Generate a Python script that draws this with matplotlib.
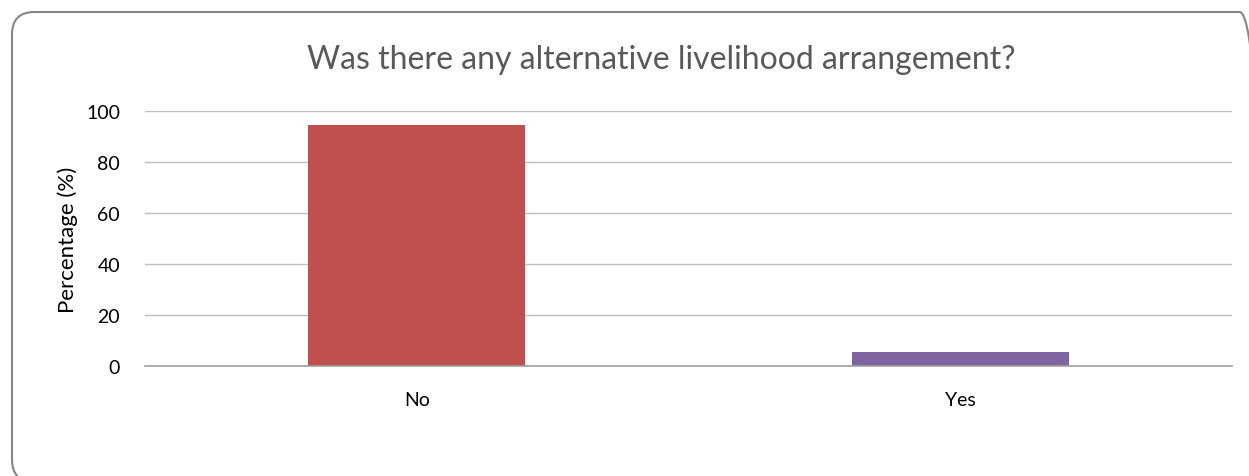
import matplotlib
matplotlib.use("Agg")
import matplotlib.pyplot as plt
from matplotlib.patches import FancyBboxPatch

# data
categories = ["No", "Yes"]
percentages = [94.4, 5.6]
bar_colors = ["#C0504D", "#8064A2"]
y_ticks = [0, 20, 40, 60, 80, 100]

plt.rcParams['font.family'] = ['Lato', 'DejaVu Sans']

W, H = 1249, 477
fig = plt.figure(figsize=(W / 100, H / 100), dpi=100)

# rounded chart border, running off the right/bottom edge
border = FancyBboxPatch((12 / W, -6 / H), 1250 / W, (H - 13 + 6) / H,
                        boxstyle="round,pad=0,rounding_size=0.018",
                        transform=fig.transFigure, fill=False,
                        edgecolor="#868686", linewidth=1.5,
                        mutation_aspect=W / H)
fig.patches.append(border)

ax = fig.add_axes([145 / W, (H - 367) / H, (1232 - 145) / W, (367 - 112) / H])
x = range(len(categories))
ax.bar(x, percentages, width=0.4, color=bar_colors, zorder=3)
ax.set_xlim(-0.5, 1.5)
ax.set_ylim(0, 100)
ax.set_yticks(y_ticks)
ax.set_xticks(list(x))
ax.set_xticklabels(categories)
ax.yaxis.grid(True, color="#BFBFBF", linewidth=1, zorder=0)
for side in ["left", "right", "top"]:
    ax.spines[side].set_visible(False)
ax.spines["bottom"].set_color("#A0A0A0")
ax.spines["bottom"].set_linewidth(1.2)
ax.spines["bottom"].set_zorder(4)
ax.tick_params(axis="both", length=0, labelsize=14, colors="black")
ax.tick_params(axis="x", pad=18)
ax.tick_params(axis="y", pad=18)
ax.set_ylabel("Percentage (%)", fontsize=16, labelpad=6)

fig.text(661 / W, (H - 60) / H, "Was there any alternative livelihood arrangement?",
         ha="center", va="center", fontsize=23, color="#595959")

fig.savefig("out.png", dpi=100)
